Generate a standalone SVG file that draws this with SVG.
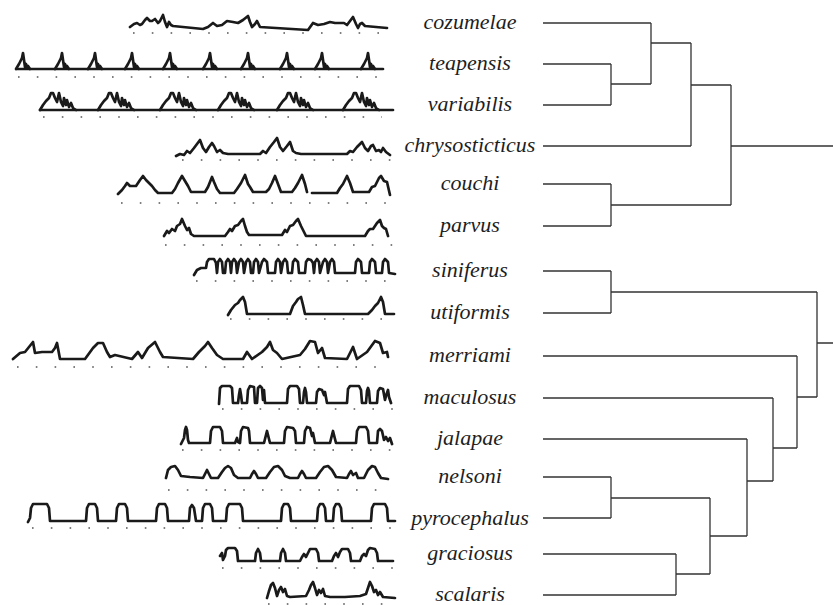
<svg xmlns="http://www.w3.org/2000/svg" xmlns:xlink="http://www.w3.org/1999/xlink" width="833" height="605" viewBox="0 0 833 605">
<style>
.lbl{font-family:"Liberation Serif","Times New Roman",serif;font-style:italic;font-size:22px;fill:#1e1e1e;text-anchor:middle}
.wv{fill:none;stroke:#1a1a1a;stroke-width:2.7;stroke-linejoin:round;stroke-linecap:round}
.dt{fill:none;stroke:#555;stroke-width:1.5;stroke-dasharray:1.6 17.2}
.tr{fill:none;stroke:#333;stroke-width:1.3}
</style>
<defs>
<path id="tp" class="wv" d="M0,0 L3,-5 L6,-11 L7,-16 L9,-2 L10,-5 L11,-1 L12,-3 L14,0"/>
<path id="vg" class="wv" d="M0,0 L3,-5 L6,-9 L9,-12 L11,-17 L13,-17 L15,-12 L17,-8 L19,-17 L21,-8 L23,-4 L24,-12 L26,-5 L27,-10 L29,-3 L31,-7 L33,-2 L36,0"/>
</defs>
<rect width="833" height="605" fill="#fff"/>

<g id="cozumelae">
<path class="wv" d="M130,27 L134,24 L137,23 L140,25 L142,24 L145,20 L147,18 L150,21 L152,21 L155,19 L158,23 L160,21 L163,15 L165,22 L167,27 L169,22 L171,25 L173,26 L203,29 L208,27 L213,23 L217,26 L222,25 L227,21 L233,22 L238,23 L243,20 L248,16 L250,22 L252,27 L255,24 L257,21 L260,27 L308,30 L313,23 L318,25 L324,24 L330,22 L335,23 L340,23 L344,23 L347,25 L350,21 L353,17 L356,24 L358,28 L360,24 L362,23 L365,26 L387,28"/>
<path class="dt" d="M133,33 H392"/>
<text class="lbl" x="470" y="29">cozumelae</text>
</g>

<g id="teapensis">
<path class="wv" d="M17,69 H383"/>
<use xlink:href="#tp" x="16" y="69"/>
<use xlink:href="#tp" x="55" y="69"/>
<use xlink:href="#tp" x="88" y="69"/>
<use xlink:href="#tp" x="125" y="69"/>
<use xlink:href="#tp" x="163" y="69"/>
<use xlink:href="#tp" x="203" y="69"/>
<use xlink:href="#tp" x="241" y="69"/>
<use xlink:href="#tp" x="280" y="69"/>
<use xlink:href="#tp" x="315" y="69"/>
<use xlink:href="#tp" x="361" y="69"/>
<path class="dt" d="M18,77 H393"/>
<text class="lbl" x="470" y="70">teapensis</text>
</g>

<g id="variabilis">
<path class="wv" d="M40,110 H393"/>
<use xlink:href="#vg" x="40" y="110"/>
<use xlink:href="#vg" x="98" y="110"/>
<use xlink:href="#vg" x="160" y="110"/>
<use xlink:href="#vg" x="218" y="110"/>
<use xlink:href="#vg" x="277" y="110"/>
<use xlink:href="#vg" x="343" y="110"/>
<path class="dt" d="M43,117 H382"/>
<text class="lbl" x="470" y="111">variabilis</text>
</g>

<g id="chrysosticticus">
<path class="wv" d="M176,156 L180,154 L184,155 L187,151 L190,153 L194,148 L197,144 L200,140 L203,148 L206,152 L209,147 L212,143 L214,146 L217,152 L220,150 L223,153 L228,154 L260,154 L263,151 L266,153 L270,147 L274,142 L277,138 L280,147 L283,151 L287,146 L290,142 L293,151 L296,153 L301,154 L347,154 L350,151 L353,152 L357,147 L360,144 L362,142 L365,148 L368,151 L371,146 L373,145 L376,151 L379,150 L381,152 L383,148 L386,152 L390,155"/>
<path class="dt" d="M182,160 H396"/>
<text class="lbl" x="470" y="152">chrysosticticus</text>
</g>

<g id="couchi">
<path class="wv" d="M118,194 L122,190 L125,186 L127,183 L130,186 L136,186 L140,180 L143,176 L146,180 L148,182 L150,184 L152,186 L155,190 L158,193 L172,193 L175,189 L178,183 L182,176 L185,181 L188,186 L191,192 L205,192 L208,187 L212,177 L214,182 L217,189 L220,193 L234,193 L237,189 L241,183 L245,175 L248,184 L250,187 L253,192 L266,192 L269,189 L272,183 L275,176 L278,184 L281,192 L292,192 L295,188 L298,183 L302,175 L305,184 L307,192"/>
<path class="wv" d="M312,193 L337,193 L340,188 L343,184 L347,176 L350,183 L353,192 L369,192 L372,187 L375,186 L379,178 L381,176 L384,181 L387,182 L390,195"/>
<path class="dt" d="M121,203 H391"/>
<text class="lbl" x="470" y="190">couchi</text>
</g>

<g id="parvus">
<path class="wv" d="M164,236 L167,231 L169,233 L172,229 L175,231 L177,226 L180,224 L182,219 L185,226 L187,230 L189,228 L191,234 L194,236 L225,236 L228,232 L230,229 L232,231 L235,226 L238,225 L241,221 L243,219 L245,226 L247,232 L249,235 L282,235 L285,230 L287,232 L290,226 L293,225 L296,221 L298,219 L301,226 L303,230 L306,236 L365,236 L368,231 L370,229 L373,229 L377,223 L380,220 L382,226 L384,228 L386,229 L388,236"/>
<path class="dt" d="M165,245 H395"/>
<text class="lbl" x="470" y="232">parvus</text>
</g>

<g id="siniferus">
<path class="wv" d="M194,275 L197,270 L201,268 L206,268 L207,262 L209,259 L214,259 L216,263 L217,273 L218,262 L220,259 L222,262 L223,273 L225,273 L226,262 L228,259 L230,262 L231,273 L232,262 L234,259 L236,262 L237,273 L239,262 L241,259 L243,262 L244,273 L246,262 L248,259 L250,262 L251,273 L253,273 L254,262 L256,259 L258,262 L259,273 L262,262 L264,259 L267,262 L268,273 L275,273 L276,262 L278,259 L280,262 L281,273 L283,262 L285,259 L287,262 L288,273 L292,273 L293,262 L295,259 L298,262 L299,273 L305,273 L306,262 L308,259 L311,260 L313,263 L314,273 L315,262 L317,259 L319,262 L320,273 L323,262 L325,259 L327,262 L328,273 L330,262 L332,259 L334,262 L335,273 L355,273 L356,262 L358,259 L361,262 L362,273 L369,273 L370,262 L372,259 L375,262 L376,273 L382,273 L383,262 L385,259 L388,262 L389,273 L395,274"/>
<path class="dt" d="M196,281 H390"/>
<text class="lbl" x="470" y="277">siniferus</text>
</g>

<g id="utiformis">
<path class="wv" d="M228,315 L231,310 L235,305 L238,303 L240,300 L243,297 L245,302 L247,314 L290,314 L293,306 L296,302 L298,299 L301,297 L303,305 L305,314 L368,314 L372,310 L375,306 L378,303 L381,297 L383,302 L385,314 L394,314"/>
<path class="dt" d="M230,319 H390"/>
<text class="lbl" x="470" y="319">utiformis</text>
</g>

<g id="merriami">
<path class="wv" d="M13,359 L20,353 L25,352 L33,342 L35,353 L42,352 L52,352 L55,348 L57,343 L60,359 L85,359 L93,348 L98,343 L103,343 L107,352 L110,357 L115,355 L132,359 L138,352 L142,358 L148,348 L155,342 L160,352 L163,357 L193,359 L199,352 L205,346 L208,342 L212,348 L217,355 L223,359 L243,359 L247,352 L252,359 L262,352 L267,347 L270,342 L273,350 L277,353 L282,359 L300,355 L305,349 L310,341 L315,342 L318,353 L322,348 L325,358 L347,359 L353,347 L357,359 L367,352 L375,341 L380,343 L383,353 L387,352 L388,357"/>
<path class="dt" d="M17,367 H390"/>
<text class="lbl" x="470" y="362">merriami</text>
</g>

<g id="maculosus">
<path class="wv" d="M219,404 L220,388 L222,386 L230,386 L232,388 L233,403 L238,403 L239,395 L240,389 L241,395 L242,403 L247,403 L248,390 L250,386 L254,387 L255,403 L257,403 L258,388 L260,386 L262,388 L263,400 L264,390 L265,403 L287,403 L288,389 L290,386 L297,386 L299,389 L300,403 L303,403 L304,392 L305,388 L306,392 L307,403 L316,403 L317,392 L319,389 L322,390 L324,395 L325,392 L327,403 L347,403 L348,389 L350,386 L359,386 L361,390 L362,403 L366,403 L367,391 L368,388 L369,391 L370,403 L377,403 L378,391 L380,388 L383,389 L385,400 L386,396 L388,390 L389,397 L391,403"/>
<path class="dt" d="M222,409 H395"/>
<text class="lbl" x="470" y="404">maculosus</text>
</g>

<g id="jalapae">
<path class="wv" d="M181,444 L184,438 L185,430 L186,427 L187,430 L188,440 L189,443 L210,443 L211,431 L213,427 L220,427 L222,431 L223,443 L235,443 L237,438 L238,442 L240,443 L241,431 L243,427 L248,428 L249,431 L250,443 L264,443 L266,435 L267,431 L268,435 L270,443 L284,443 L285,431 L287,427 L293,428 L295,431 L296,443 L304,443 L305,431 L307,427 L310,428 L312,436 L313,433 L315,443 L330,443 L332,435 L333,431 L334,435 L336,443 L356,443 L357,431 L359,427 L366,427 L368,431 L369,443 L377,443 L378,431 L380,429 L382,431 L384,440 L386,437 L388,441 L390,438 L392,444"/>
<path class="dt" d="M182,450 H398"/>
<text class="lbl" x="470" y="445">jalapae</text>
</g>

<g id="nelsoni">
<path class="wv" d="M166,478 L168,470 L171,467 L175,466 L178,470 L181,476 L190,477 L203,478 L205,474 L207,470 L209,474 L211,478 L218,478 L222,472 L225,468 L228,466 L231,468 L234,475 L238,478 L250,478 L252,474 L254,471 L256,474 L258,478 L266,478 L270,472 L274,467 L278,466 L282,470 L285,476 L290,478 L298,478 L300,474 L302,471 L304,474 L306,478 L316,478 L320,472 L324,467 L328,466 L332,470 L336,477 L347,478 L349,474 L351,471 L353,475 L356,473 L358,478 L364,478 L368,470 L372,466 L375,467 L378,473 L381,478 L388,479"/>
<path class="dt" d="M168,490 H393"/>
<text class="lbl" x="470" y="483">nelsoni</text>
</g>

<g id="pyrocephalus">
<path class="wv" d="M28,522 L30,518 L31,508 L33,504 L47,504 L49,508 L50,521 L86,521 L87,508 L89,504 L95,504 L97,508 L98,521 L116,521 L117,508 L119,504 L125,504 L127,508 L128,521 L156,521 L157,508 L159,504 L165,504 L167,508 L168,521 L189,521 L190,508 L192,505 L194,508 L196,521 L202,521 L203,508 L205,504 L210,504 L212,508 L213,521 L226,521 L227,508 L229,504 L240,504 L242,508 L243,521 L281,521 L282,508 L284,504 L288,504 L290,508 L291,521 L317,521 L318,508 L320,504 L323,504 L325,508 L326,521 L333,521 L334,508 L336,504 L339,504 L341,508 L342,521 L371,521 L372,508 L374,504 L385,504 L387,508 L388,521 L395,521"/>
<path class="dt" d="M32,528 H393"/>
<text class="lbl" x="470" y="525">pyrocephalus</text>
</g>

<g id="graciosus">
<path class="wv" d="M220,556 L222,553 L223,560 L225,556 L226,550 L228,548 L235,548 L237,551 L238,561 L255,561 L256,553 L258,549 L260,553 L261,561 L280,561 L281,553 L283,549 L285,553 L286,561 L300,561 L302,557 L304,554 L306,557 L308,553 L310,549 L316,549 L318,553 L319,561 L332,561 L334,556 L336,553 L338,557 L340,552 L342,549 L348,549 L350,553 L351,561 L360,561 L362,556 L364,554 L366,556 L368,550 L370,548 L375,549 L377,553 L378,561 L393,561"/>
<path class="dt" d="M222,568 H395"/>
<text class="lbl" x="470" y="560">graciosus</text>
</g>

<g id="scalaris">
<path class="wv" d="M267,598 L269,591 L271,585 L273,583 L275,588 L277,596 L279,590 L281,587 L283,592 L285,589 L287,596 L290,597 L306,596 L309,590 L311,585 L313,582 L315,588 L317,595 L319,590 L321,593 L323,589 L325,596 L330,597 L345,597 L360,596 L366,594 L368,588 L370,582 L372,586 L374,592 L376,590 L378,595 L380,592 L383,597 L395,598"/>
<path class="dt" d="M268,604 H395"/>
<text class="lbl" x="470" y="601">scalaris</text>
</g>

<g id="connectors" class="tr">
<path d="M543,23 H651 M543,64 H611 M543,105 H611 M543,146 H691 M543,184 H611 M543,226 H611 M543,271 H611 M543,313 H611 M543,356 H797 M543,398 H773 M543,439 H747 M543,477 H611 M543,518 H611 M543,554 H676 M543,595 H676"/>
<path d="M611,64 V105 M611,84 H651 M651,23 V84 M651,43 H691 M691,43 V146 M691,85 H731 M611,184 V226 M611,205 H731 M731,85 V205 M731,146 H833"/>
<path d="M611,271 V313 M611,292 H817 M611,477 V518 M611,498 H710 M676,554 V595 M676,574 H710 M710,498 V574 M710,536 H747 M747,439 V536 M747,481 H773 M773,398 V481 M773,448 H797 M797,356 V448 M797,397 H817 M817,292 V397 M817,343 H833"/>
</g>
</svg>
